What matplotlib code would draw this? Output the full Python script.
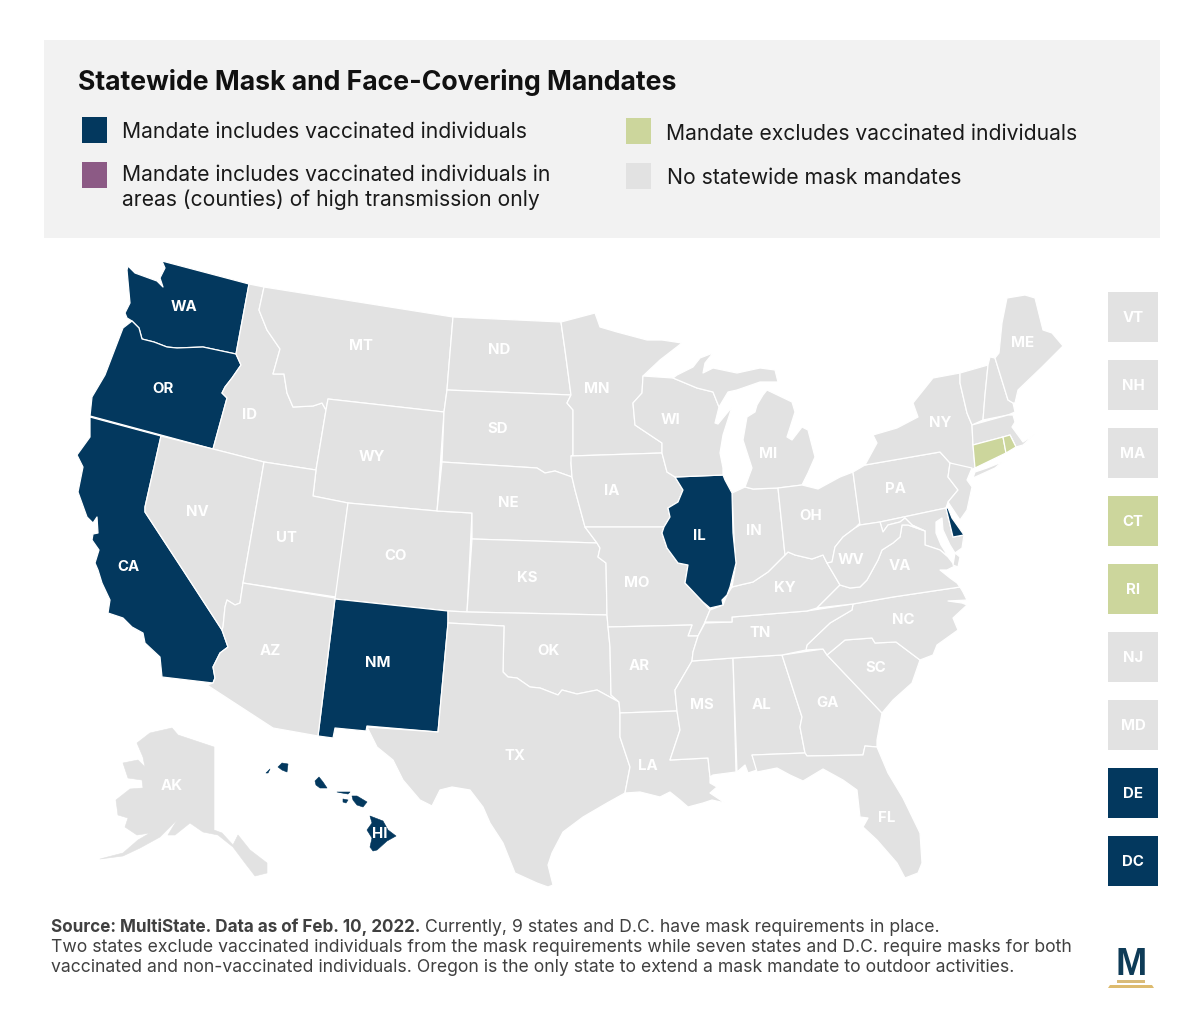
import matplotlib
matplotlib.use("Agg")
import matplotlib.pyplot as plt
from matplotlib.patches import Polygon, Rectangle

plt.rcParams['font.family'] = ['Inter', 'DejaVu Sans']

NAVY = '#03385E'
GREEN = '#CCD69C'
PURPLE = '#8C5A85'
GRAY = '#E2E2E2'
PANEL = '#F2F2F2'

TITLE = 'Statewide Mask and Face-Covering Mandates'
LEGEND_NAVY = 'Mandate includes vaccinated individuals'
LEGEND_PURPLE = 'Mandate includes vaccinated individuals in\nareas (counties) of high transmission only'
LEGEND_GREEN = 'Mandate excludes vaccinated individuals'
LEGEND_GRAY = 'No statewide mask mandates'
SOURCE_BOLD = 'Source: MultiState. Data as of Feb. 10, 2022.'
SOURCE_1 = ' Currently, 9 states and D.C. have mask requirements in place.'
SOURCE_2 = 'Two states exclude vaccinated individuals from the mask requirements while seven states and D.C. require masks for both'
SOURCE_3 = 'vaccinated and non-vaccinated individuals. Oregon is the only state to extend a mask mandate to outdoor activities.'

STATES_INCLUDE = ['WA', 'OR', 'CA', 'NM', 'IL', 'DE', 'HI', 'HI2', 'HI3', 'HI4', 'HI5', 'HI6', 'HI7']
STATES_EXCLUDE = ['CT', 'RI']
HAWAII_PARTS = ['HI', 'HI2', 'HI3', 'HI4', 'HI5', 'HI6', 'HI7']

SMALL_STATES = ['VT', 'NH', 'MA', 'CT', 'RI', 'NJ', 'MD', 'DE', 'DC']
SMALL_STATUS = ['none', 'none', 'none', 'excl', 'excl', 'none', 'none', 'incl', 'incl']

# State outlines (image x, y)
WA = [(162,261),(249,284),(236,354),(203,347),(177,348),(167,347),(154,342),(142,339),(139,328),(132,321),(127,318),(125,313),(130,303),(127,270),(128,266),(135,273),(157,281),(163,287),(160,278),(165,268)]
OR = [(132,321),(139,328),(142,339),(154,342),(167,347),(177,348),(203,347),(236,354),(241,365),(232,378),(225,387),(222,393),(227,398),(213,449),(90,416),(92,397),(105,375),(123,328)]
CA = [(90,417),(161,436),(145,507),(145,512),(183,570),(222,630),(228,647),(220,653),(213,667),(215,678),(213,683),(162,677),(160,657),(145,643),(143,633),(132,627),(123,618),(108,613),(110,600),(102,583),(98,570),(95,563),(99,550),(92,540),(93,534),(98,533),(97,517),(93,523),(87,517),(78,492),(83,467),(77,455),(90,437)]
ID = [(249,284),(264,287),(259,310),(267,330),(280,349),(273,374),(284,374),(287,393),(293,407),(313,406),(322,403),(326,410),(316,470),(264,462),(213,449),(227,398),(222,393),(225,387),(232,378),(241,365),(236,354)]
MT = [(264,287),(453,317),(448,377),(447,390),(444,412),(328,399),(326,410),(322,403),(313,406),(293,407),(287,393),(284,374),(273,374),(280,349),(267,330),(259,310)]
WY = [(328,399),(444,412),(437,511),(348,503),(313,496),(316,470),(326,410)]
NV = [(161,436),(213,449),(264,462),(243,583),(240,603),(235,605),(227,600),(225,607),(223,627),(222,630),(183,570),(145,512),(145,507)]
UT = [(264,462),(316,470),(313,496),(348,503),(336,597),(243,583)]
CO = [(348,503),(437,511),(472,513),(467,612),(448,611),(335,599)]
NM = [(335,599),(448,611),(448,623),(438,732),(367,726),(366,731),(335,728),(333,738),(318,736)]
AZ = [(243,583),(335,598),(318,736),(273,728),(207,685),(213,683),(215,678),(213,667),(220,653),(228,647),(222,630),(223,627),(225,607),(227,600),(235,605),(240,603)]
ND = [(453,317),(561,322),(565,350),(571,395),(447,390),(448,377)]
SD = [(447,390),(571,395),(567,403),(573,410),(573,455),(571,463),(572,477),(555,471),(545,473),(537,468),(442,462),(444,412)]
NE = [(442,462),(537,468),(545,473),(555,471),(572,477),(575,490),(585,527),(597,543),(472,539),(472,513),(437,511)]
KS = [(472,539),(597,543),(600,548),(598,557),(606,563),(607,615),(467,612)]
OK = [(448,611),(467,612),(607,615),(610,647),(611,695),(619,702),(597,690),(577,694),(562,690),(558,695),(540,688),(530,687),(517,678),(508,677),(503,672),(504,626),(448,623)]
TX = [(448,623),(504,626),(503,672),(508,677),(517,678),(530,687),(540,688),(558,695),(562,690),(577,694),(597,690),(619,702),(620,713),(620,737),(630,767),(625,793),(607,803),(583,817),(563,832),(552,853),(548,865),(553,885),(548,887),(537,883),(515,873),(507,853),(503,843),(490,823),(483,807),(470,790),(452,787),(440,790),(432,806),(420,800),(403,780),(393,760),(377,747),(367,727),(438,732)]
MN = [(561,322),(595,313),(600,327),(617,332),(647,340),(662,340),(682,343),(660,360),(643,376),(642,393),(633,403),(635,425),(662,443),(662,453),(571,456),(573,455),(573,410),(567,403),(571,395),(565,350)]
IA = [(571,456),(662,453),(667,472),(675,477),(683,490),(678,502),(668,508),(670,517),(664,527),(585,527),(575,490),(572,477),(571,463)]
MO = [(585,527),(664,527),(662,533),(667,548),(678,563),(688,565),(685,583),(703,602),(710,610),(705,622),(698,636),(688,636),(692,625),(608,627),(607,615),(606,563),(598,557),(600,548),(597,543)]
AR = [(608,627),(692,625),(688,636),(698,636),(693,652),(692,661),(675,690),(677,711),(620,713),(619,702),(611,695),(610,647)]
LA = [(620,713),(677,711),(680,730),(670,760),(708,758),(710,777),(710,783),(717,787),(710,793),(725,803),(712,800),(703,803),(688,807),(680,800),(670,792),(660,797),(640,792),(625,793),(630,767),(620,737)]
MS = [(692,661),(733,658),(736,772),(713,775),(710,777),(708,758),(670,760),(680,730),(677,711),(675,690)]
AL = [(733,658),(782,655),(802,717),(800,727),(805,753),(752,755),(757,770),(748,773),(745,765),(737,772)]
GA = [(782,655),(823,649),(827,655),(882,713),(877,740),(877,747),(865,746),(863,755),(807,756),(805,753),(800,727),(802,717)]
FL = [(752,755),(805,753),(807,756),(863,755),(865,746),(877,747),(888,773),(903,798),(920,833),(922,863),(918,873),(905,878),(897,863),(877,840),(863,827),(868,818),(860,817),(857,790),(843,780),(823,769),(803,781),(790,775),(777,768),(757,772)]
SC = [(827,655),(845,640),(872,638),(875,643),(896,642),(920,660),(912,683),(893,700),(882,713)]
NC = [(853,604),(893,597),(960,587),(963,592),(967,600),(948,601),(962,603),(967,605),(953,618),(958,630),(937,645),(933,655),(920,660),(896,642),(875,643),(872,638),(845,640),(827,655),(823,649),(806,650),(807,645),(830,623),(852,610)]
TN = [(705,623),(732,622),(732,617),(807,611),(853,604),(852,610),(830,623),(807,645),(806,650),(782,655),(733,658),(692,661),(693,652),(698,636)]
KY = [(705,622),(710,610),(723,605),(727,595),(732,587),(740,585),(753,582),(768,572),(785,555),(788,552),(795,555),(812,559),(823,555),(827,563),(840,585),(835,590),(817,608),(807,611),(732,617),(732,622)]
IN = [(732,493),(745,487),(753,489),(778,488),(785,555),(768,572),(753,582),(740,585),(732,587),(736,563),(735,557)]
IL = [(675,477),(723,475),(725,480),(732,493),(733,533),(736,563),(730,587),(727,595),(722,600),(723,605),(710,608),(703,602),(685,583),(688,565),(678,563),(667,548),(662,533),(664,527),(670,517),(668,508),(678,502),(683,490)]
WI = [(643,376),(673,378),(697,388),(713,392),(719,407),(715,423),(718,424),(732,407),(723,435),(720,453),(723,468),(723,475),(675,477),(667,472),(662,453),(662,443),(635,425),(633,403),(642,393)]
MI_LOWER = [(763,395),(767,390),(792,402),(795,412),(787,437),(792,440),(802,427),(808,430),(815,457),(808,473),(802,485),(778,488),(753,489),(745,487),(752,468),(743,440),(747,417),(755,412),(757,405)]
MI_UPPER = [(673,378),(677,375),(693,367),(700,358),(713,353),(705,363),(703,373),(713,368),(737,373),(760,368),(775,370),(778,382),(760,382),(737,390),(728,392),(719,407),(713,392),(697,388)]
OH = [(778,488),(802,485),(818,489),(840,477),(853,472),(860,523),(855,528),(843,537),(835,547),(832,562),(827,563),(823,555),(812,559),(795,555),(788,552),(785,555)]
PA = [(853,472),(865,465),(940,452),(950,463),(948,477),(958,490),(948,502),(946,508),(880,522),(860,525)]
NY = [(865,465),(877,443),(873,435),(897,428),(918,417),(913,403),(933,378),(960,373),(960,383),(967,413),(972,425),(973,445),(975,468),(970,470),(950,463),(940,452)]
LONG_ISLAND = [(973,478),(975,472),(987,468),(1002,462),(995,468)]
NJ = [(950,463),(972,468),(967,480),(972,487),(967,510),(960,520),(948,502),(958,490),(948,477)]
DE = [(946,508),(948,508),(952,518),(964,535),(953,537)]
MD = [(880,522),(946,508),(953,537),(964,535),(962,548),(955,553),(950,545),(943,530),(942,518),(936,522),(936,533),(941,545),(948,556),(940,550),(925,545),(925,531),(912,525),(905,518),(900,522),(888,525),(883,532)]
VA = [(840,585),(850,588),(860,587),(867,580),(878,560),(882,550),(893,543),(900,537),(902,525),(908,525),(925,531),(925,545),(940,550),(948,557),(955,566),(947,570),(940,570),(950,578),(957,583),(960,587),(893,597),(853,604),(817,608),(835,590)]
VA_SHORE = [(955,553),(960,557),(958,567),(953,565)]
WV = [(860,525),(880,522),(883,532),(888,525),(900,522),(905,518),(912,525),(925,531),(908,525),(902,525),(900,537),(893,543),(882,550),(878,560),(867,580),(860,587),(850,588),(840,585),(827,563),(832,562),(835,547),(843,537),(855,528)]
VT = [(960,373),(988,365),(985,395),(983,420),(972,425),(967,413),(960,383)]
NH = [(988,365),(990,357),(995,358),(1008,400),(1013,403),(1015,412),(1008,415),(983,420),(985,395)]
ME = [(995,358),(999,353),(1002,323),(1007,298),(1025,295),(1035,298),(1043,330),(1052,333),(1063,346),(1042,367),(1018,390),(1015,403),(1013,403),(1008,400)]
MA = [(972,425),(1008,415),(1013,415),(1015,422),(1012,427),(1023,442),(1035,434),(1023,445),(1016,447),(1010,435),(1003,437),(973,445)]
CT = [(973,445),(1003,437),(1006,453),(975,468)]
RI = [(1003,437),(1010,435),(1016,447),(1006,453)]
AK = [(172,728),(178,735),(214,747),(214,830),(222,833),(233,845),(238,835),(250,850),(267,863),(267,873),(255,876),(245,863),(233,847),(218,835),(203,832),(190,823),(175,835),(168,835),(177,820),(160,837),(140,848),(123,856),(100,859),(123,853),(138,840),(150,833),(137,835),(125,827),(128,818),(118,815),(116,800),(130,789),(143,788),(142,780),(128,778),(123,763),(138,760),(145,767),(143,757),(137,743),(150,733)]
HI = [(370,816),(383,821),(388,830),(396,836),(387,841),(377,850),(373,851),(370,847),(372,838),(367,830),(372,823)]
HI2 = [(352,796),(357,796),(367,802),(363,807),(357,805),(353,800)]
HI3 = [(337,792),(350,792),(348,794),(342,793)]
HI4 = [(343,799),(348,800),(346,803),(343,802)]
HI5 = [(315,781),(319,777),(323,782),(327,788),(320,788),(316,785)]
HI6 = [(278,767),(282,763),(288,764),(287,772),(282,770)]
HI7 = [(266,773),(270,769),(268,773)]

SHAPES = dict(WA=WA, OR=OR, CA=CA, ID=ID, MT=MT, WY=WY, NV=NV, UT=UT, CO=CO, NM=NM, AZ=AZ, ND=ND, SD=SD, NE=NE, KS=KS, OK=OK, TX=TX,
              MN=MN, IA=IA, MO=MO, AR=AR, LA=LA, MS=MS, AL=AL, GA=GA, FL=FL, SC=SC, NC=NC, TN=TN, KY=KY, IN=IN, IL=IL, WI=WI,
              MI_LOWER=MI_LOWER, MI_UPPER=MI_UPPER, OH=OH, PA=PA, NY=NY, LONG_ISLAND=LONG_ISLAND, NJ=NJ, MD=MD, VA=VA, VA_SHORE=VA_SHORE,
              WV=WV, VT=VT, NH=NH, ME=ME, MA=MA, CT=CT, RI=RI, DE=DE, AK=AK, HI=HI, HI2=HI2, HI3=HI3, HI4=HI4, HI5=HI5, HI6=HI6, HI7=HI7)

LABEL_NAMES = ['WA','OR','CA','ID','MT','WY','NV','UT','CO','NM','AZ','ND','SD','NE','KS','OK','TX','MN','IA','MO','AR','LA','MS','AL','GA','FL','SC','NC','TN','KY','IN','IL','WI','MI','OH','PA','NY','WV','VA','ME','AK','HI']
LABEL_X = [184,163,128,250,361,372,197,286,396,378,270,499,498,508,527,548,515,597,612,637,639,648,702,762,828,887,876,903,760,785,754,699,671,768,811,896,940,851,900,1023,172,380]
LABEL_Y = [307,389,567,415,346,457,512,538,556,663,651,350,429,503,578,651,756,389,491,583,666,766,705,705,703,818,668,620,633,588,531,536,420,454,516,489,423,560,566,343,786,834]

fig = plt.figure(figsize=(12, 10.31), dpi=100, facecolor='white')
ax = fig.add_axes([0, 0, 1, 1])
ax.set_xlim(0, 1200)
ax.set_ylim(1031, 0)
ax.axis('off')

ax.add_patch(Rectangle((44, 40), 1116, 198, fc=PANEL, ec='none'))
ax.text(78, 82.5, TITLE, fontsize=19.2, fontweight='bold', color='#111111', va='center', ha='left')

for (x, y, c) in [(82, 117, NAVY), (82, 162, PURPLE), (626, 118, GREEN), (626, 163, GRAY)]:
    ax.add_patch(Rectangle((x, y), 25, 26, fc=c, ec='none'))
LEG = dict(fontsize=15.2, color='#1a1a1a', va='center', ha='left')
ax.text(122, 131.5, LEGEND_NAVY, **LEG)
ax.text(122.5, 187.5, LEGEND_PURPLE, linespacing=1.22, **LEG)
ax.text(666, 133.5, LEGEND_GREEN, **LEG)
ax.text(667, 178.5, LEGEND_GRAY, **LEG)

for name, pts in SHAPES.items():
    if name in STATES_INCLUDE:
        c = NAVY
    elif name in STATES_EXCLUDE:
        c = GREEN
    else:
        c = GRAY
    if name in HAWAII_PARTS or name == 'AK':
        ax.add_patch(Polygon(pts, closed=True, fc=c, ec=c, lw=0.4, joinstyle='round'))
    else:
        ax.add_patch(Polygon(pts, closed=True, fc=c, ec='white', lw=0.9, joinstyle='round'))

for n, x, y in zip(LABEL_NAMES, LABEL_X, LABEL_Y):
    ax.text(x, y, n, fontsize=10.8, fontweight='bold', color='white', ha='center', va='center')

STATUS_COLOR = dict(none=GRAY, excl=GREEN, incl=NAVY)
for i, (n, s) in enumerate(zip(SMALL_STATES, SMALL_STATUS)):
    y0 = 292 + 68 * i
    ax.add_patch(Rectangle((1108, y0), 50, 50, fc=STATUS_COLOR[s], ec='none'))
    ax.text(1133, y0 + 25.5, n, fontsize=10.8, fontweight='bold', color='white', ha='center', va='center')

SRC = dict(fontsize=12.67, color='#404040', va='center', ha='left')
t = ax.text(51, 927.5, SOURCE_BOLD, fontweight='bold', fontsize=12.3, color='#404040', va='center', ha='left')
fig.canvas.draw()
bb = t.get_window_extent()
ax.text(bb.x1, 927.5, SOURCE_1, **SRC)
ax.text(51, 947.5, SOURCE_2, **SRC)
ax.text(51, 967.5, SOURCE_3, **SRC)

# logo
ax.text(1131, 965, 'M', fontsize=27, fontweight='bold', family='Liberation Sans', color='#0E3B57', ha='center', va='center')
ax.add_patch(Rectangle((1117, 980), 28, 3, fc='#D9BB78', ec='none'))
ax.add_patch(Polygon([(1110, 985), (1152, 985), (1154, 988), (1108, 988)], closed=True, fc='#DDBB6E', ec='none'))

fig.savefig('out.png', dpi=100, facecolor='white')
